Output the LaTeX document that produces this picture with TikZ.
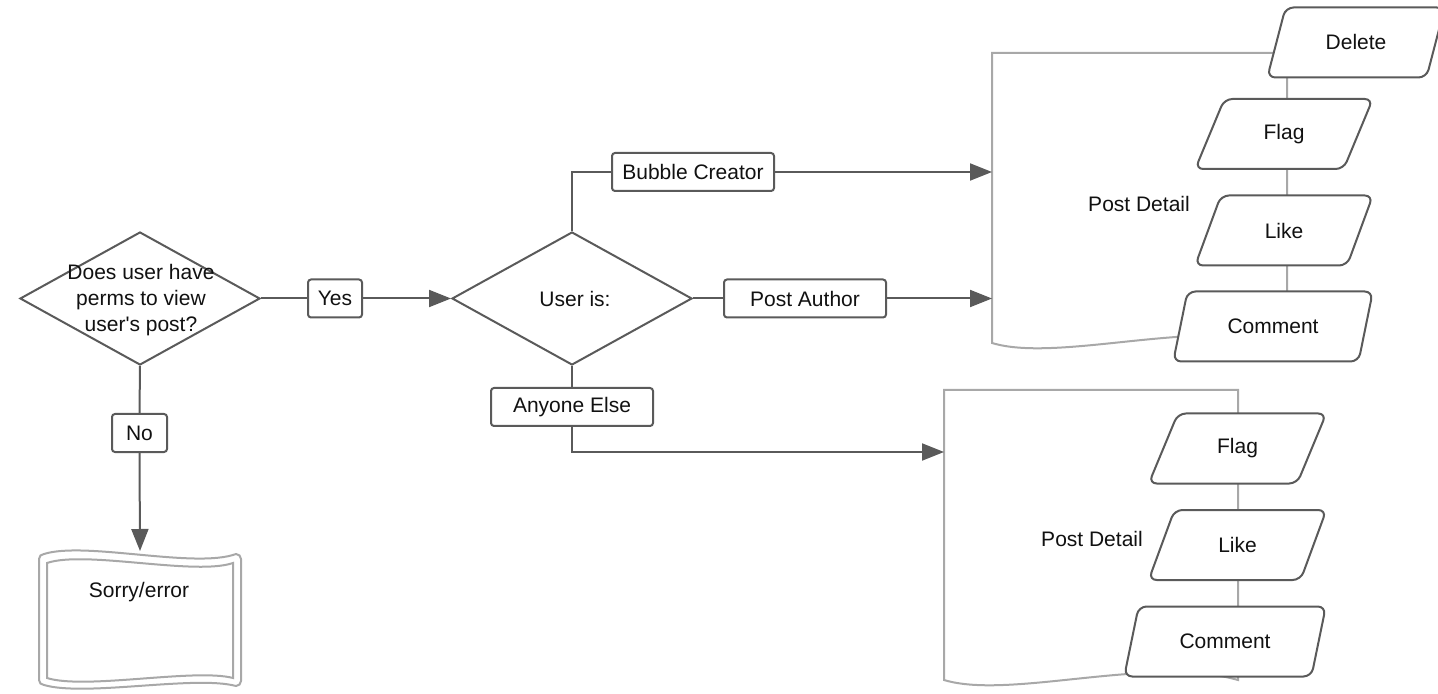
\documentclass[tikz,border=0pt]{standalone}
\usepackage{fontspec}
\setmainfont{Liberation Sans}
\usetikzlibrary{arrows.meta,shapes.geometric}
\definecolor{dk}{HTML}{5A5A5A}
\definecolor{lt}{HTML}{A8A8A8}
\definecolor{txt}{HTML}{111111}
\begin{document}
\begin{tikzpicture}[x=0.5pt,y=-0.5pt,
  font=\fontsize{10.5pt}{13pt}\selectfont, text=txt,
  dkline/.style={draw=dk,line width=1pt},
  arr/.style={dkline,-{Triangle[length=11pt,width=8.5pt]}},
  ltline/.style={draw=lt,line width=1pt},
  dia/.style={diamond,dkline,fill=white,minimum width=120pt,minimum height=66.5pt,inner sep=0pt},
  lab/.style={rectangle,rounded corners=1.5pt,dkline,fill=white,minimum height=19pt,inner sep=0pt},
  para/.style={trapezium,trapezium left angle=63,trapezium right angle=117,trapezium stretches=true,
    rounded corners=4pt,dkline,fill=white,minimum width=89pt,minimum height=35pt,inner sep=0pt},
  plain/.style={inner sep=0pt}]

\useasboundingbox (0,0) rectangle (1438,694);

% document shapes
\draw[ltline,fill=white] (1287,343) -- (1287,53) -- (992,53) -- (992,343)
  .. controls (1058,363) and (1198,318) .. (1287,343) -- cycle;
\draw[ltline,fill=white] (1238,680) -- (1238,390) -- (944,390) -- (944,680)
  .. controls (1010,700) and (1150,655) .. (1238,680) -- cycle;

% sorry/error shape
\draw[ltline,fill=white] (44,554) .. controls (85,541) and (195,569) .. (236,554)
  arc[start angle=90,end angle=0,radius=2.5pt] -- (241,681)
  arc[start angle=0,end angle=-90,radius=2.5pt]
  .. controls (195,675) and (85,697) .. (44,685)
  arc[start angle=270,end angle=180,radius=2.5pt] -- (39,559)
  arc[start angle=180,end angle=90,radius=2.5pt] -- cycle;
\draw[ltline] (47,563) .. controls (85,550) and (195,576) .. (233,563)
  -- (233,678) .. controls (195,668) and (85,690) .. (47,678) -- cycle;
\node[plain] (sorrytxt) at (139,592) {Sorry/error};
\coordinate (sorrytop) at (140,551);

% coordinates on documents
\coordinate (doc1a) at (992,172);
\coordinate (doc1b) at (992,298.5);
\coordinate (doc2a) at (944,452);

% decisions
\node[dia] (d1) at (140,298.5) {};
\node[plain,align=center] (d1t) at (141,300) {Does user have\\perms to view\\user\textquotesingle s post?};
\node[dia] (d2) at (572,298.5) {};
\node[plain] (d2t) at (575,298.5) {User is:};

% labels
\node[lab,minimum width=27pt] (yes) at (335,298.5) {Yes};
\node[lab,minimum width=27.5pt] (no) at (139.5,433) {No};
\node[lab,minimum width=81pt] (bc) at (693,172) {Bubble Creator};
\node[lab,minimum width=81pt] (pa) at (805,298.5) {Post Author};
\node[lab,minimum width=81pt] (ae) at (572,407) {Anyone Else};

% connectors
\draw[dkline] (d1.east) -- (yes.west);
\draw[arr] (yes.east) -- (d2.west);
\draw[dkline] (d1.south) -- (no.north);
\draw[arr] (no.south) -- (sorrytop);
\draw[dkline] (d2.north) |- (bc.west);
\draw[arr] (bc.east) -- (doc1a);
\draw[dkline] (d2.east) -- (pa.west);
\draw[arr] (pa.east) -- (doc1b);
\draw[dkline] (d2.south) -- (ae.north);
\draw[arr] (ae.south) |- (doc2a);

% parallelograms
\node[para] (del) at (1356,42.5) {Delete};
\node[para] (flag1) at (1284,134) {Flag};
\node[para] (like1) at (1284,230.5) {Like};
\node[para,minimum width=100pt] (com1) at (1273,326.5) {Comment};
\node[para] (flag2) at (1237.5,448.5) {Flag};
\node[para] (like2) at (1237.5,545) {Like};
\node[para,minimum width=101pt] (com2) at (1225,641.5) {Comment};

\node[plain] (pd1) at (1139,204) {Post Detail};
\node[plain] (pd2) at (1092,539) {Post Detail};
\end{tikzpicture}
\end{document}
